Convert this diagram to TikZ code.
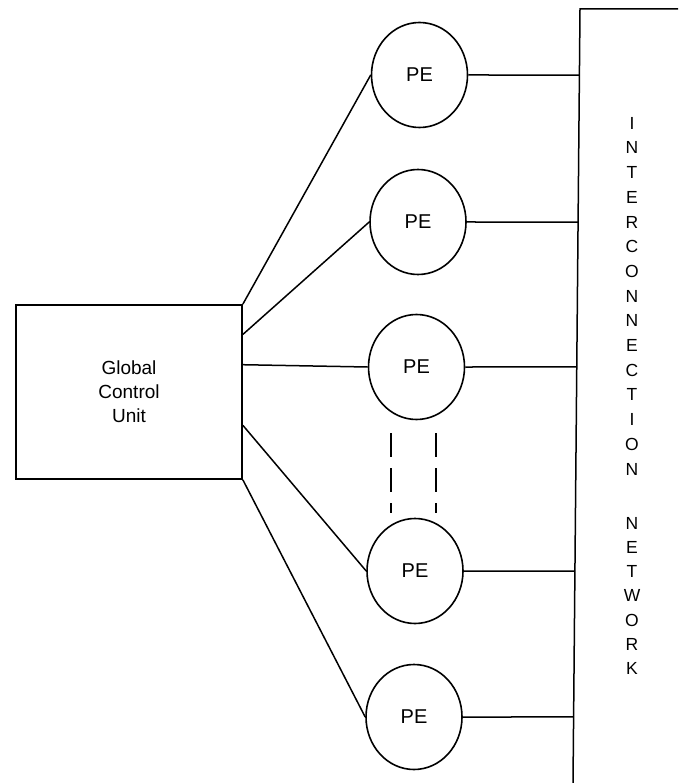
\documentclass[tikz,border=0pt]{standalone}
\usepackage{fontspec}
\setmainfont{Liberation Sans}
\usetikzlibrary{shapes.geometric,calc}
\begin{document}
\begin{tikzpicture}[x=1pt,y=-1pt,
  wire/.style={line width=1.5pt},
  pe/.style={ellipse, draw, line width=1.6pt, minimum width=96pt, minimum height=105pt,
    inner sep=0pt, font=\fontsize{20}{24}\selectfont},
  unitbox/.style={rectangle, draw, line width=1.8pt, minimum width=226pt, minimum height=174pt,
    align=center, font=\fontsize{19}{24}\selectfont},
  netletter/.style={anchor=base, inner sep=0pt, font=\fontsize{17.5}{21}\selectfont},
  gap/.style={line width=2.6pt, dash pattern=on 24pt off 11pt}]
\useasboundingbox (0,0) rectangle (678,783);

% global control unit
\node[unitbox] (gcu) at (129,392) {Global\\Control\\Unit};

% processing elements
\node[pe] (pe1) at (419.5,75)  {PE};
\node[pe] (pe2) at (418,222)   {PE};
\node[pe] (pe3) at (416.5,367) {PE};
\node[pe] (pe4) at (415,571)   {PE};
\node[pe] (pe5) at (414,717)   {PE};

% interconnection network edge
\coordinate (nettop) at (580,9);
\coordinate (netbot) at (573,783);
\coordinate (netend) at (678,9);
\draw[wire] (netbot) -- (nettop) -- (netend);

% ports on the network edge
\coordinate (np1) at ($(nettop)!0.0853!(netbot)$);
\coordinate (np2) at ($(nettop)!0.2752!(netbot)$);
\coordinate (np3) at ($(nettop)!0.4625!(netbot)$);
\coordinate (np4) at ($(nettop)!0.7261!(netbot)$);
\coordinate (np5) at ($(nettop)!0.9147!(netbot)$);

% ports on the control unit
\coordinate (g1) at (gcu.north east);
\coordinate (g2) at ($(gcu.north east)!0.1724!(gcu.south east)$);
\coordinate (g3) at ($(gcu.north east)!0.3448!(gcu.south east)$);
\coordinate (g4) at ($(gcu.north east)!0.6897!(gcu.south east)$);
\coordinate (g5) at (gcu.south east);

% control lines
\foreach \i in {1,...,5} {
  \draw[wire] (g\i) -- (pe\i.west);
  \draw[wire] (pe\i.east) -- (np\i);
}

% ellipsis between elements
\coordinate (d1a) at (391,433);
\coordinate (d1b) at (391,513);
\coordinate (d2a) at (436,433);
\coordinate (d2b) at (436,513);
\draw[gap] (d1a) -- (d1b);
\draw[gap] (d2a) -- (d2b);

% network label
\foreach \ch [count=\i] in {I,N,T,E,R,C,O,N,N,E,C,T,I,O,N}
  \node[netletter] (la\i) at (632,{123+24.7*(\i-1)+6.25}) {\ch};
\foreach \ch [count=\i] in {N,E,T,W,O,R,K}
  \node[netletter] (lb\i) at (632,{523+24.2*(\i-1)+6.25}) {\ch};
\end{tikzpicture}
\end{document}
